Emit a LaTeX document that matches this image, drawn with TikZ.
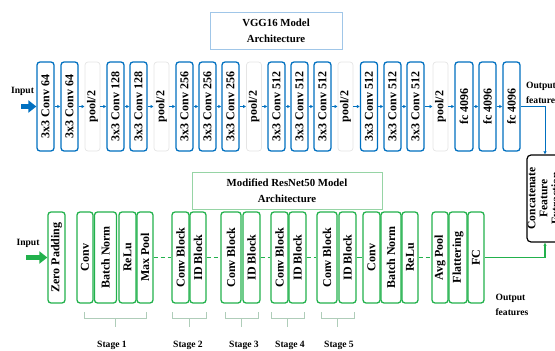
\documentclass[tikz,border=0pt]{standalone}
\usepackage{fontspec}
\setmainfont{Liberation Serif}
\definecolor{vggblue}{RGB}{0,112,192}
\definecolor{lightblue}{RGB}{160,198,232}
\definecolor{resgreen}{RGB}{34,177,76}
\definecolor{lightgreen}{RGB}{150,212,165}
\definecolor{poolgray}{gray}{0.90}
\definecolor{bracegray}{RGB}{175,205,185}
\usepackage{tikz}
\usetikzlibrary{arrows.meta,positioning}
\newcommand{\vt}[1]{\rotatebox{90}{#1}}

\tikzset{
  layer/.style={rounded corners=3pt,line width=1.3pt,fill=white,inner sep=0pt,
                minimum width=17pt,font=\bfseries\fontsize{12}{12}\selectfont},
  vggbox/.style={layer,draw=vggblue,minimum height=89pt},
  poolbox/.style={layer,draw=poolgray,line width=0.7pt,minimum width=15pt,minimum height=89pt},
  resbox/.style={layer,draw=resgreen,minimum height=91pt},
  titlebox/.style={line width=1pt,minimum height=37pt,align=center,
                   font=\bfseries\fontsize{10.8}{16}\selectfont},
  label/.style={font=\bfseries\fontsize{9.6}{15}\selectfont,align=left},
  vggarrow/.style={-{Latex[length=3pt,width=3.5pt]},line width=1pt,draw=vggblue},
  reslink/.style={line width=1.2pt,draw=resgreen},
  resdash/.style={reslink,dash pattern=on 4pt off 3pt},
  stagebr/.style={line width=0.6pt,draw=bracegray}
}

\begin{document}
\begin{tikzpicture}[x=1pt,y=-1pt]
        \useasboundingbox (0,0) rectangle (555,351);
        \clip (0,0) rectangle (555,351);

        % VGG16 branch
        \node[titlebox,draw=lightblue,minimum width=132pt] (vggtitle) at (276,30.5)
              {VGG16 Model\\Architecture};
        \node[label] (inA) at (22.5,91) {Input};
        \coordinate (startA) at (21,106.5);
        \node[vggbox] (c64a)  at (45.5,106.5)  {\vt{3x3 Conv 64}};
        \node[vggbox] (c64b)  at (69.5,106.5)  {\vt{3x3 Conv 64}};
        \node[poolbox] (pool1) at (92.5,106.5) {\vt{pool/2}};
        \node[vggbox] (c128a) at (115.5,106.5) {\vt{3x3 Conv 128}};
        \node[vggbox] (c128b) at (138.5,106.5) {\vt{3x3 Conv 128}};
        \node[poolbox] (pool2) at (161.5,106.5) {\vt{pool/2}};
        \node[vggbox] (c256a) at (184.5,106.5) {\vt{3x3 Conv 256}};
        \node[vggbox] (c256b) at (207.5,106.5) {\vt{3x3 Conv 256}};
        \node[vggbox] (c256c) at (230.5,106.5) {\vt{3x3 Conv 256}};
        \node[poolbox] (pool3) at (254,106.5)  {\vt{pool/2}};
        \node[vggbox] (c512a) at (276.5,106.5) {\vt{3x3 Conv 512}};
        \node[vggbox] (c512b) at (299.5,106.5) {\vt{3x3 Conv 512}};
        \node[vggbox] (c512c) at (322.5,106.5) {\vt{3x3 Conv 512}};
        \node[poolbox] (pool4) at (345.5,106.5) {\vt{pool/2}};
        \node[vggbox] (c512d) at (369,106.5)   {\vt{3x3 Conv 512}};
        \node[vggbox] (c512e) at (392.5,106.5) {\vt{3x3 Conv 512}};
        \node[vggbox] (c512f) at (415.5,106.5) {\vt{3x3 Conv 512}};
        \node[poolbox] (pool5) at (440.5,106.5) {\vt{pool/2}};
        \node[vggbox,minimum width=18pt] (fca) at (464,106.5) {\vt{fc 4096}};
        \node[vggbox] (fcb) at (487.5,106.5) {\vt{fc 4096}};
        \node[vggbox] (fcc) at (511.5,106.5) {\vt{fc 4096}};
        \node[label,anchor=west] (outA) at (522.5,92.5) {Output\\features};

        \draw[-{Triangle[length=8pt,width=12pt]},line width=4.5pt,draw=vggblue]
              (startA) -- (c64a.west);
        \draw[vggarrow] (c64a) -- (c64b);
        \draw[vggarrow] (c64b) -- (pool1);
        \draw[vggarrow] (pool1) -- (c128a);
        \draw[vggarrow] (c128a) -- (c128b);
        \draw[vggarrow] (c128b) -- (pool2);
        \draw[vggarrow] (pool2) -- (c256a);
        \draw[vggarrow] (c256a) -- (c256b);
        \draw[vggarrow] (c256b) -- (c256c);
        \draw[vggarrow] (c256c) -- (pool3);
        \draw[vggarrow] (pool3) -- (c512a);
        \draw[vggarrow] (c512a) -- (c512b);
        \draw[vggarrow] (c512b) -- (c512c);
        \draw[vggarrow] (c512c) -- (pool4);
        \draw[vggarrow] (pool4) -- (c512d);
        \draw[vggarrow] (c512d) -- (c512e);
        \draw[vggarrow] (c512e) -- (c512f);
        \draw[vggarrow] (c512f) -- (pool5);
        \draw[vggarrow] (pool5) -- (fca);
        \draw[vggarrow] (fca) -- (fcb);
        \draw[vggarrow] (fcb) -- (fcc);

        % concatenation
        \node[draw=black,line width=1.2pt,rounded corners=4pt,inner sep=0pt,
              minimum width=36pt,minimum height=87pt,
              font=\bfseries\fontsize{11.6}{12}\selectfont] (concat) at (545,198.5)
              {\vt{\begin{tabular}{@{}c@{}}Concatenate\\Feature\\Extraction\end{tabular}}};
        \draw[vggarrow] (fcc.east) -| (concat.north);

        % ResNet50 branch
        \node[titlebox,draw=lightgreen,minimum width=190pt] (restitle) at (287,190.5)
              {Modified ResNet50 Model\\Architecture};
        \node[label] (inB) at (28,243) {Input};
        \coordinate (startB) at (26,257.5);
        \node[resbox] (zpad) at (56.5,257.5) {\vt{Zero Padding}};
        \node[resbox,minimum width=16pt] (conva) at (85,257.5)   {\vt{Conv}};
        \node[resbox,minimum width=22pt] (bna)   at (105.5,257.5) {\vt{Batch Norm}};
        \node[resbox] (relua) at (127.5,257.5) {\vt{ReLu}};
        \node[resbox,minimum width=16pt] (mpool) at (145,257.5) {\vt{Max Pool}};
        \node[resbox] (cb2) at (180.5,257.5) {\vt{Conv Block}};
        \node[resbox,minimum width=16pt] (id2) at (198,257.5) {\vt{ID Block}};
        \node[resbox,minimum width=20pt] (cb3) at (231,257.5) {\vt{Conv Block}};
        \node[resbox] (id3) at (251.5,257.5) {\vt{ID Block}};
        \node[resbox] (cb4) at (279.5,257.5) {\vt{Conv Block}};
        \node[resbox] (id4) at (297.5,257.5) {\vt{ID Block}};
        \node[resbox,minimum width=20pt] (cb5) at (327,257.5) {\vt{Conv Block}};
        \node[resbox] (id5) at (347.5,257.5) {\vt{ID Block}};
        \node[resbox] (convb) at (371.5,257.5) {\vt{Conv}};
        \node[resbox,minimum width=20pt] (bnb) at (391,257.5) {\vt{Batch Norm}};
        \node[resbox,minimum width=16pt] (relub) at (410,257.5) {\vt{ReLu}};
        \node[resbox,minimum width=16pt] (avgp) at (440,257.5) {\vt{Avg Pool}};
        \node[resbox,minimum width=18pt] (flat) at (458,257.5) {\vt{Flattering}};
        \node[resbox,minimum width=16pt] (fcr) at (476,257.5) {\vt{FC}};
        \node[label,anchor=west] (outB) at (492,305) {Output\\features};

        \draw[-{Triangle[length=8pt,width=12pt]},line width=4.5pt,draw=resgreen]
              (startB) -- (zpad.west);
        \draw[resdash] (mpool) -- (cb2);
        \draw[resdash] (id2) -- (cb3);
        \draw[resdash] (id3) -- (cb4);
        \draw[resdash] (id4) -- (cb5);
        \draw[reslink] (id5) -- (convb);
        \draw[resdash] (relub) -- (avgp);
        \draw[reslink,-{Latex[length=3pt,width=3.5pt]}] (fcr.east) -| (concat.south);

        % stages
        \draw[stagebr] (84,312) -- (84,318) -- (146,318) -- (146,312) (115,318) -- (115,327);
        \draw[stagebr] (172,312) -- (172,318) -- (206,318) -- (206,312) (189,318) -- (189,327);
        \draw[stagebr] (225,312) -- (225,318) -- (258,318) -- (258,312) (241.5,318) -- (241.5,327);
        \draw[stagebr] (271,312) -- (271,318) -- (304,318) -- (304,312) (287.5,318) -- (287.5,327);
        \draw[stagebr] (321,312) -- (321,318) -- (354,318) -- (354,312) (337.5,318) -- (337.5,327);
        \node[label] (st1) at (112,345) {Stage 1};
        \node[label] (st2) at (188,345) {Stage 2};
        \node[label] (st3) at (244,345) {Stage 3};
        \node[label] (st4) at (290,345) {Stage 4};
        \node[label] (st5) at (339,345) {Stage 5};
      \end{tikzpicture}
\end{document}
